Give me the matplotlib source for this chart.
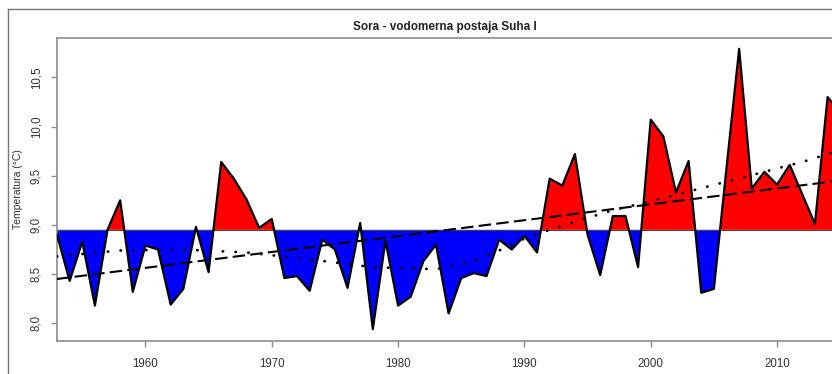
#!/usr/bin/env python3
"""
Sora - Suha I: annual water temperature with deviations from the mean
"""

import matplotlib.pyplot as plt
from matplotlib.lines import Line2D
import numpy as np

plt.rcParams['font.family'] = ['Liberation Sans', 'DejaVu Sans']

# Annual values
years = list(range(1953, 2016))
temps = [8.90, 8.43, 8.83, 8.18, 8.95, 9.25, 8.32, 8.79, 8.75, 8.19,
         8.35, 8.98, 8.52, 9.64, 9.47, 9.26, 8.97, 9.06, 8.46, 8.48,
         8.33, 8.85, 8.75, 8.36, 9.02, 7.94, 8.84, 8.18, 8.27, 8.63,
         8.80, 8.10, 8.46, 8.51, 8.48, 8.85, 8.75, 8.89, 8.72, 9.47,
         9.40, 9.72, 8.90, 8.49, 9.09, 9.09, 8.57, 10.07, 9.90, 9.33,
         9.65, 8.31, 8.35, 9.58, 10.79, 9.37, 9.54, 9.41, 9.61, 9.31,
         9.01, 10.30, 10.14]
baseline = 8.95

# smoothed trend (dotted)
smooth_years = [1953, 1958, 1963, 1968, 1973, 1978, 1983, 1986, 1988, 1990,
                1992, 1994, 1997, 2000, 2003, 2006, 2009, 2012, 2015]
smooth_vals = [8.68, 8.74, 8.75, 8.72, 8.65, 8.57, 8.55, 8.63, 8.74, 8.86,
               8.95, 9.03, 9.15, 9.24, 9.34, 9.44, 9.54, 9.64, 9.76]

y_ticks = [8.0, 8.5, 9.0, 9.5, 10.0, 10.5]
y_ticklabels = ['8,0', '8,5', '9,0', '9,5', '10,0', '10,5']
x_ticks = [1960, 1970, 1980, 1990, 2000, 2010]

x = np.array(years, dtype=float)
y = np.array(temps)

fig = plt.figure(figsize=(8.32, 3.74), dpi=100)
ax = fig.add_axes([57 / 832, 1 - 341 / 374, 1 - 57 / 832, (341 - 38) / 374])

# red above the mean, blue below
ax.fill_between(x, y, baseline, where=y >= baseline, interpolate=True,
                color='#ff0000', linewidth=0)
ax.fill_between(x, y, baseline, where=y <= baseline, interpolate=True,
                color='#0000ff', linewidth=0)
ax.axhline(baseline, color='#444444', linewidth=0.8, zorder=2)
ax.plot(x, y, color='black', linewidth=1.6, zorder=3)

# linear trend (dashed) and smoothed trend (dotted)
lin = np.polyval(np.polyfit(x - 1980, y, 1), x - 1980)
ax.plot(x, lin, color='black', linewidth=1.5, linestyle=(0, (6, 2.5)), zorder=4)
ax.plot(smooth_years, smooth_vals, color='black', linewidth=2,
        linestyle=(0, (0.1, 4.5)), dash_capstyle='round', zorder=4)

ax.set_xlim(1953, 2014.35)
ax.set_ylim(7.82, 10.90)

ax.set_yticks(y_ticks)
ax.set_yticklabels(y_ticklabels, rotation=90, va='center')
ax.set_xticks(x_ticks)

for s in ['left', 'top', 'bottom']:
    ax.spines[s].set_color('#8c8c8c')
    ax.spines[s].set_linewidth(1.2)
ax.spines['right'].set_visible(False)
ax.tick_params(axis='both', direction='out', length=4.5, width=1, color='#8c8c8c',
               labelsize=8.3, labelcolor='#333333')
ax.tick_params(axis='x', pad=8)
ax.tick_params(axis='y', pad=6)

ax.set_ylabel('Temperatura (°C)', fontsize=7.5, color='#333333', labelpad=5)
ax.set_title('Sora - vodomerna postaja Suha I', fontsize=8.5, fontweight='bold',
             color='#222222', pad=6)

# outer frame of the original plot window
fig.add_artist(Line2D([8 / 832, 1], [1 - 9 / 374, 1 - 9 / 374], color='#777777',
                      linewidth=1, transform=fig.transFigure))
fig.add_artist(Line2D([8 / 832, 8 / 832], [0, 1 - 9 / 374], color='#777777',
                      linewidth=1, transform=fig.transFigure))

fig.savefig('out.png', dpi=100)
